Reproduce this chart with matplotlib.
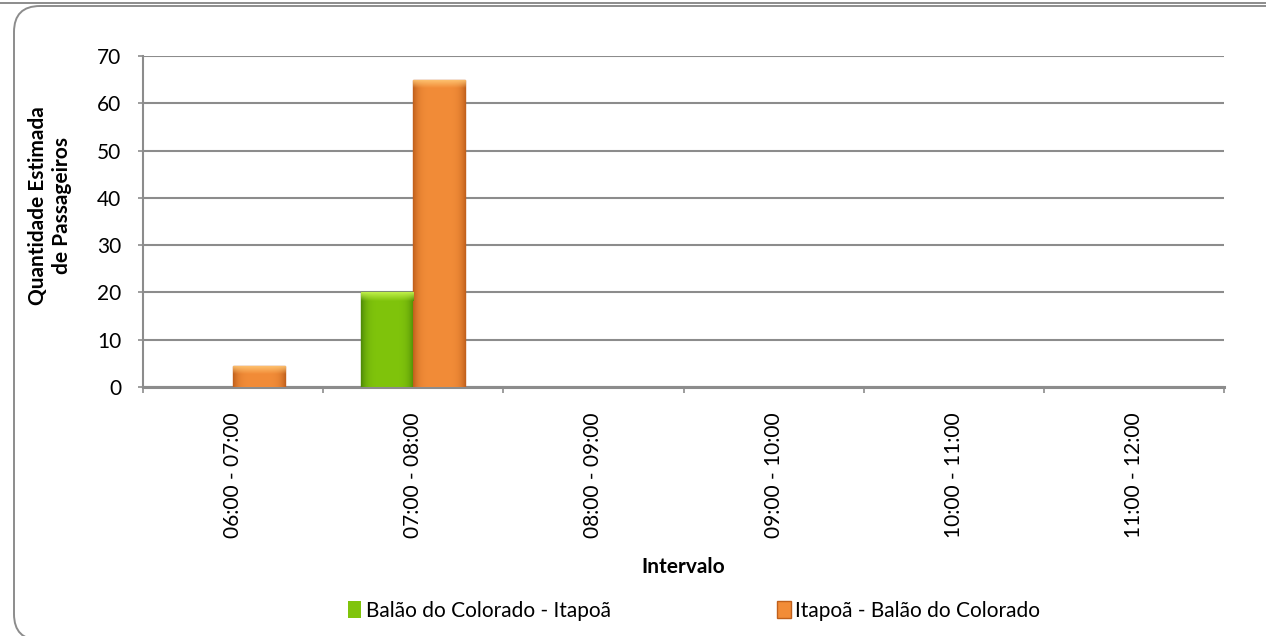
import matplotlib.pyplot as plt
import numpy as np
from matplotlib.patches import FancyBboxPatch
from matplotlib.colors import to_rgb
from matplotlib.transforms import IdentityTransform

# data
intervals = ['06:00 - 07:00', '07:00 - 08:00', '08:00 - 09:00',
             '09:00 - 10:00', '10:00 - 11:00', '11:00 - 12:00']
balao_itapoa = [0, 20, 0, 0, 0, 0]
itapoa_balao = [4.5, 65, 0, 0, 0, 0]
series_names = ['Balão do Colorado - Itapoã', 'Itapoã - Balão do Colorado']

plt.rcParams['font.family'] = ['Lato', 'DejaVu Sans']
grey = '#8c8c8c'
fs = 15

fig = plt.figure(figsize=[12.66, 6.36], dpi=100)
ax = fig.add_axes([143 / 1266, 1 - 387 / 636, (1224 - 143) / 1266, (387 - 56) / 636])

# rounded chart frame, and the bottom of the chart above it (pixel coords)
fig.patches.append(FancyBboxPatch((14, -4), 1282, 634, boxstyle='round,pad=0,rounding_size=26',
                                  transform=IdentityTransform(), fc='none', ec=grey, lw=1.4))
fig.patches.append(FancyBboxPatch((-40, 633), 1335, 100, boxstyle='round,pad=0,rounding_size=26',
                                  transform=IdentityTransform(), fc='none', ec=grey, lw=1.4))

x = np.arange(len(intervals)) + 0.5
w = 0.29
styles = [('#80c40c', '#4e8a06', '#c0f04a'), ('#f28c38', '#c0601c', '#ffc775')]
bars = []
for i, (vals, name) in enumerate([(balao_itapoa, series_names[0]), (itapoa_balao, series_names[1])]):
    base, dark, light = styles[i]
    lws = [1 if v > 0 else 0 for v in vals]
    b = ax.bar(x + (i - 0.5) * w, vals, w, color=base, edgecolor=dark, lw=lws,
               label=name, zorder=3)
    bars.append(b)
    # bevel shading clipped to each bar
    cb, cd, cl = np.array(to_rgb(base)), np.array(to_rgb(dark)), np.array(to_rgb(light))
    t = np.abs(np.linspace(-1, 1, 80)) ** 5
    for r in b:
        h = r.get_height()
        if h <= 0:
            continue
        x0, bw = r.get_x(), r.get_width()
        body = cb[None] * (1 - t[:, None]) + cd[None] * t[:, None]
        im = ax.imshow(np.tile(body[None], (2, 1, 1)), extent=[x0, x0 + bw, 0, h],
                       aspect='auto', zorder=3.1, interpolation='bilinear')
        im.set_clip_path(r)
        bh = min(1.8, h * 0.45)
        s = np.linspace(0, 1, 40)[:, None, None]
        top = cl[None, None] * (1 - s) + body[None] * s
        im2 = ax.imshow(top, extent=[x0, x0 + bw, h - bh, h], aspect='auto', zorder=3.2,
                        interpolation='bilinear')
        im2.set_clip_path(r)

ax.set_xlim(0, len(intervals))
ax.set_ylim(0, 70)
ax.set_yticks(range(0, 71, 10))
ax.yaxis.grid(True, color=grey, lw=1.5, zorder=0)
ax.set_axisbelow(True)
ax.set_xticks(range(0, len(intervals) + 1))
ax.set_xticklabels([])
ax.set_xticks(x, minor=True)
ax.set_xticklabels(intervals, minor=True, rotation=90, fontsize=fs)
ax.tick_params(axis='x', which='minor', length=0, pad=18)
ax.tick_params(axis='x', which='major', length=4.5, color=grey, width=1.2)
ax.tick_params(axis='y', length=3.6, color=grey, width=1.2, labelsize=fs, pad=12)
for s in ['top', 'right']:
    ax.spines[s].set_visible(False)
ax.spines['left'].set_color(grey)
ax.spines['bottom'].set_color(grey)
ax.spines['left'].set_linewidth(1.5)
ax.spines['bottom'].set_linewidth(2.2)

ax.set_ylabel('Quantidade Estimada\nde Passageiros', fontsize=fs, fontweight='bold')
ax.yaxis.set_label_coords(-0.066, 0.547)
ax.set_xlabel('Intervalo', fontsize=fs, fontweight='bold', labelpad=14)

ax.legend(handles=bars, loc='center', bbox_to_anchor=(694 / 1266, 1 - 611 / 636),
          bbox_transform=fig.transFigure, ncol=2, frameon=False, fontsize=fs,
          handlelength=0.65, handleheight=0.9, handletextpad=0.2, columnspacing=8)

fig.savefig('out.png', dpi=100)
